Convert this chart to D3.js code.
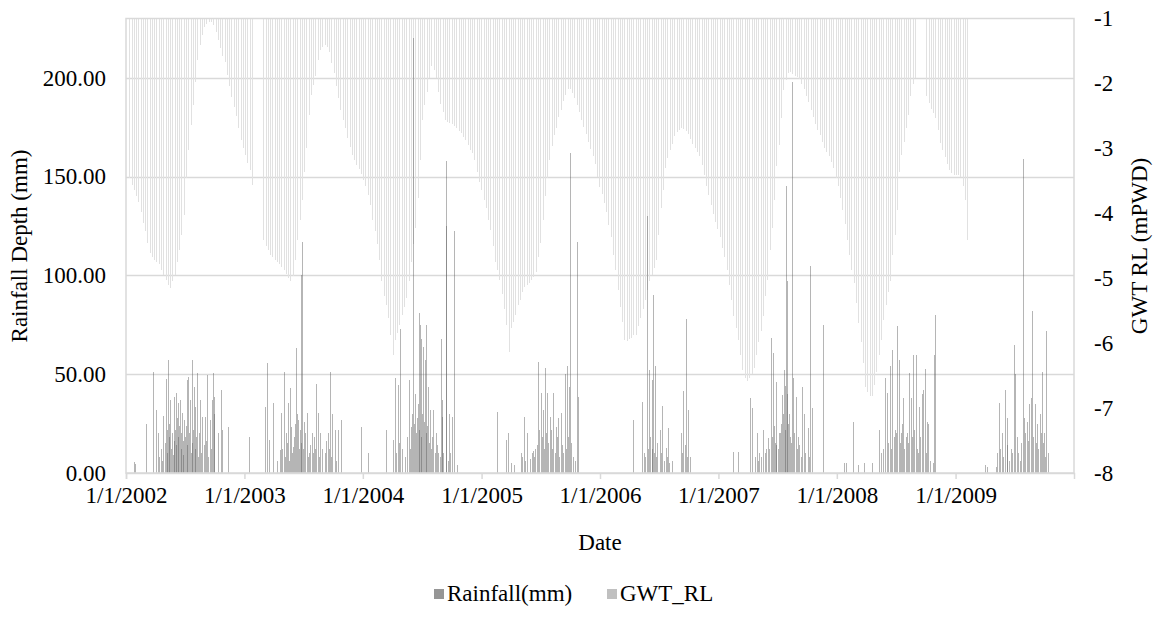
<!DOCTYPE html>
<html>
<head>
<meta charset="utf-8">
<script src="https://cdn.jsdelivr.net/npm/d3@7"></script>
<style>
  html, body { margin: 0; padding: 0; background: #fff; }
  svg { display: block; }
</style>
</head>
<body>
<svg id="chart" width="1154" height="630"></svg>
<script>
// ---------------- DATA ----------------
const yearTicks = ["2002-01-01","2003-01-01","2004-01-01","2005-01-01","2006-01-01","2007-01-01","2008-01-01","2009-01-01"];
const leftTicks = [0, 50, 100, 150, 200];
const rightTicks = [-1, -2, -3, -4, -5, -6, -7, -8];
const seriesNames = ["Rainfall(mm)", "GWT_RL"];

// Weekly groundwater table readings (mPWD), first reading 2002-01-11, one per week; null = missing
const gwtStart = "2002-01-11";
const gwtRL = [
-3.45,-3.56,-3.64,-3.73,-3.82,-3.98,-4.15,-4.28,-4.45,-4.61,
-4.68,-4.72,-4.75,-4.78,-4.87,-4.95,-5.02,-5.10,-5.15,-5.05,
-4.95,-4.75,-4.56,-4.33,-4.02,-3.45,-3.02,-2.64,-2.33,-1.98,
-1.64,-1.41,-1.25,-1.13,-1.08,-1.05,-1.05,-1.10,-1.21,-1.33,
-1.45,-1.58,-1.67,-1.87,-2.04,-2.21,-2.36,-2.50,-2.68,-2.87,
-2.99,-3.10,-3.22,-3.33,-3.56,null,null,null,null,-4.41,
-4.50,-4.56,-4.65,-4.68,-4.72,-4.75,-4.78,-4.82,-4.87,-4.93,
-4.99,-5.05,-4.96,-4.72,-4.41,-4.10,-3.79,-3.36,-2.99,-2.48,
-2.18,-2.02,-1.88,-1.64,-1.48,-1.44,-1.41,-1.44,-1.52,-1.68,
-1.84,-2.04,-2.22,-2.41,-2.56,-2.68,-2.84,-2.98,-3.10,-3.18,
-3.25,-3.32,-3.39,-3.48,-3.58,-3.72,-3.87,-4.10,-4.28,-4.48,
-4.72,-5.05,-5.28,-5.41,-5.61,-5.87,-6.18,-5.95,-5.84,-5.72,
-5.56,-5.45,-5.30,-5.05,-4.75,-4.48,-4.22,-3.76,-3.18,-2.56,
-2.33,-2.13,-1.92,-1.73,-1.79,-1.92,-2.13,-2.32,-2.44,-2.56,
-2.59,-2.61,-2.62,-2.65,-2.68,-2.73,-2.76,-2.82,-2.87,-2.95,
-3.02,-3.07,-3.18,-3.36,-3.52,-3.64,-3.79,-3.92,-4.10,-4.25,
-4.50,-4.75,-4.87,-5.02,-5.25,-5.48,-5.72,-6.13,-5.76,-5.67,
-5.56,-5.42,-5.33,-5.21,-5.13,-5.10,-5.07,-5.02,-4.98,-4.90,
-4.68,-4.45,-4.10,-3.73,-3.45,-3.18,-2.96,-2.79,-2.68,-2.52,
-2.41,-2.27,-2.18,-2.08,-2.08,-2.15,-2.22,-2.33,-2.44,-2.56,
-2.67,-2.78,-2.90,-3.01,-3.12,-3.24,-3.44,-3.59,-3.70,-3.84,
-3.98,-4.18,-4.36,-4.64,-4.87,-5.18,-5.44,-5.67,-5.95,-5.96,
-5.93,-5.92,-5.88,-5.87,-5.73,-5.61,-5.48,-5.33,-5.18,-5.05,
-4.95,-4.84,-4.72,-4.33,-3.92,-3.64,-3.30,-3.15,-3.02,-2.93,
-2.81,-2.75,-2.72,-2.68,-2.70,-2.73,-2.78,-2.85,-2.93,-2.99,
-3.05,-3.12,-3.25,-3.41,-3.58,-3.72,-3.87,-4.01,-4.13,-4.24,
-4.36,-4.53,-4.68,-4.87,-5.10,-5.33,-5.58,-5.76,-5.95,-6.18,
-6.41,-6.53,-6.59,-6.54,-6.48,-6.38,-6.19,-5.98,-5.82,-5.58,
-5.28,-5.02,-4.56,-4.22,-3.79,-3.27,-2.95,-2.53,-2.10,-1.95,
-1.84,-1.82,-1.85,-1.88,-1.90,-1.93,-2.01,-2.08,-2.19,-2.28,
-2.41,-2.52,-2.62,-2.72,-2.79,-2.90,-2.99,-3.05,-3.12,-3.21,
-3.30,-3.45,-3.58,-3.76,-3.95,-4.16,-4.41,-4.64,-4.87,-5.07,
-5.38,-5.69,-5.98,-6.30,-6.68,-6.76,-6.81,-6.82,-6.64,-6.44,
-6.19,-5.95,-5.64,-5.41,-5.22,-5.04,-4.65,-4.33,-3.95,-3.36,
-3.10,-2.90,-2.68,-2.48,-2.19,-2.01,-1.92,null,null,null,
null,-2.19,-2.30,-2.40,-2.45,-2.53,-2.72,-2.92,-3.02,-3.13,
-3.24,-3.33,-3.38,-3.41,-3.41,-3.41,-3.44,-3.58,-3.79,-4.41
];

// Daily rainfall (mm) on rainy days
const rainfall2002 = [
["2002-01-25",5.7],["2002-01-30",4.5],["2002-03-03",24.8],["2002-03-26",51],["2002-04-03",32],["2002-04-10",20],
["2002-04-14",8],["2002-04-18",12],["2002-04-22",6],["2002-04-26",29],["2002-05-01",15],["2002-05-04",47.6],
["2002-05-06",10],["2002-05-08",22],["2002-05-11",57],["2002-05-14",18],["2002-05-15",25],["2002-05-18",37],
["2002-05-21",12],["2002-05-23",20],["2002-05-25",9],["2002-05-28",38.6],["2002-05-30",16],["2002-06-01",22],
["2002-06-03",40.7],["2002-06-05",14],["2002-06-07",28],["2002-06-09",35.4],["2002-06-11",18],["2002-06-13",24],
["2002-06-16",37],["2002-06-19",12],["2002-06-21",20],["2002-06-23",30.4],["2002-06-25",16],["2002-06-27",9],
["2002-06-29",26.8],["2002-07-02",18],["2002-07-04",24],["2002-07-07",47],["2002-07-09",14],["2002-07-12",48.8],
["2002-07-14",20],["2002-07-17",37],["2002-07-19",10],["2002-07-22",57],["2002-07-24",15],["2002-07-26",22],
["2002-07-29",43.7],["2002-08-01",12],["2002-08-03",33.6],["2002-08-05",18],["2002-08-08",50.5],["2002-08-12",8],
["2002-08-14",20],["2002-08-17",37],["2002-08-20",10],["2002-08-24",28.5],["2002-08-28",14],["2002-09-01",28.5],
["2002-09-04",16],["2002-09-08",49.6],["2002-09-12",8],["2002-09-17",26.8],["2002-09-20",12],["2002-09-24",37],
["2002-09-27",50.5],["2002-09-28",30],["2002-09-30",38.6],["2002-10-12",20],["2002-10-20",42],["2002-10-24",21.8],
["2002-11-12",23.5]
];
const rainfall2003 = [
["2003-01-15",18],["2003-03-05",33.6],["2003-03-12",55.6],["2003-03-19",16.7],["2003-03-31",35.3],["2003-04-10",6],
["2003-04-20",11.6],["2003-04-25",30.2],["2003-04-28",12],["2003-05-02",51],["2003-05-06",8],["2003-05-09",20.3],
["2003-05-12",15],["2003-05-16",35.4],["2003-05-19",6],["2003-05-22",42.9],["2003-05-26",23.5],["2003-05-28",10],
["2003-05-31",13.3],["2003-06-02",18],["2003-06-05",25],["2003-06-08",63.2],["2003-06-11",30],["2003-06-14",26.8],
["2003-06-17",12],["2003-06-20",22],["2003-06-23",100],["2003-06-25",15],["2003-06-28",116.7],["2003-07-02",12],
["2003-07-04",26],["2003-07-07",20],["2003-07-12",30.2],["2003-07-15",8],["2003-07-19",10],["2003-07-22",14],
["2003-07-27",20],["2003-07-30",10],["2003-08-05",18],["2003-08-08",12],["2003-08-11",45],["2003-08-16",30.4],
["2003-08-20",8],["2003-08-23",20],["2003-08-27",12],["2003-09-05",10],["2003-09-10",16],["2003-09-16",20],
["2003-09-19",12],["2003-09-22",51],["2003-09-25",8],["2003-09-27",30],["2003-10-07",21.8],["2003-10-11",6],
["2003-10-17",21.8],["2003-10-27",26.8],["2003-12-27",23.3]
];
const rainfall2004 = [
["2004-01-18",10],["2004-03-11",21.8],["2004-04-02",16.7],["2004-04-09",48],["2004-04-12",10],["2004-04-19",44.6],
["2004-04-22",15],["2004-04-26",73],["2004-05-02",12],["2004-05-10",8],["2004-05-16",18],["2004-05-22",47],
["2004-05-25",12],["2004-05-27",23.5],["2004-06-01",30],["2004-06-04",220],["2004-06-07",25],["2004-06-10",40],
["2004-06-13",20],["2004-06-16",28],["2004-06-19",35],["2004-06-21",81],["2004-06-23",22],["2004-06-26",75],
["2004-06-28",18],["2004-06-29",67.6],["2004-07-02",30],["2004-07-05",63.6],["2004-07-07",26],["2004-07-10",57],
["2004-07-13",20],["2004-07-15",75],["2004-07-17",24],["2004-07-20",43.7],["2004-07-23",15],["2004-07-26",32],
["2004-07-29",12],["2004-08-02",18],["2004-08-05",32],["2004-08-09",10],["2004-08-13",20],["2004-08-17",14],
["2004-08-20",10],["2004-08-25",8],["2004-08-29",67.6],["2004-08-31",37],["2004-09-01",28.5],["2004-09-05",10],
["2004-09-13",158],["2004-09-14",125],["2004-09-18",6],["2004-09-23",30],["2004-09-26",10],["2004-10-01",28.5],
["2004-10-09",122.7],["2004-10-16",4]
];
const rainfall2005 = [
["2005-02-19",31],["2005-03-16",16.7],["2005-03-24",20],["2005-04-01",5],["2005-04-11",4],["2005-05-02",10],
["2005-05-06",8],["2005-05-12",28.5],["2005-05-16",6],["2005-05-21",20],["2005-05-29",7],["2005-06-04",10],
["2005-06-09",11],["2005-06-12",8],["2005-06-16",12],["2005-06-21",14],["2005-06-25",56.4],["2005-06-28",22],
["2005-07-02",40.5],["2005-07-05",18],["2005-07-10",32],["2005-07-13",12],["2005-07-16",53],["2005-07-19",20],
["2005-07-22",40.5],["2005-07-26",15],["2005-07-30",28.5],["2005-08-03",22],["2005-08-06",12],["2005-08-10",40.7],
["2005-08-14",10],["2005-08-18",23.5],["2005-08-22",18],["2005-08-25",27.7],["2005-08-29",8],["2005-09-02",30.2],
["2005-09-06",14],["2005-09-10",10],["2005-09-14",50],["2005-09-17",12],["2005-09-21",54],["2005-09-24",18],
["2005-09-27",43.7],["2005-10-01",162],["2005-10-03",15],["2005-10-09",8],["2005-10-15",6],["2005-10-22",117],
["2005-10-25",38.6]
];
const rainfall2006 = [
["2006-04-12",26.8],["2006-05-11",36],["2006-05-16",10],["2006-05-20",8],["2006-05-27",130],["2006-05-30",12],
["2006-06-02",52],["2006-06-05",18],["2006-06-09",47],["2006-06-10",12],["2006-06-13",90],["2006-06-16",10],
["2006-06-19",54],["2006-06-22",8],["2006-06-25",15],["2006-07-05",21.8],["2006-07-08",10],["2006-07-12",34],
["2006-07-16",6],["2006-07-23",12.7],["2006-07-26",8],["2006-07-30",23],["2006-08-03",5],["2006-08-11",6],
["2006-09-07",20],["2006-09-11",10],["2006-09-15",41.4],["2006-09-19",14],["2006-09-23",78],["2006-09-26",8],
["2006-09-30",32],["2006-10-05",8]
];
const rainfall2007 = [
["2007-02-15",10.8],["2007-03-01",10.8],["2007-04-08",37.8],["2007-04-14",33],["2007-04-24",8],["2007-04-29",20],
["2007-05-02",6],["2007-05-06",10],["2007-05-13",8],["2007-05-19",21.8],["2007-05-24",10],["2007-05-28",12],
["2007-06-04",17.7],["2007-06-07",12],["2007-06-11",68.2],["2007-06-14",18],["2007-06-19",60.6],["2007-06-21",24],
["2007-06-24",15],["2007-06-26",14],["2007-06-29",46.3],["2007-07-03",12],["2007-07-06",20],["2007-07-10",20],
["2007-07-13",25],["2007-07-17",39.5],["2007-07-20",30],["2007-07-23",52.2],["2007-07-24",22],["2007-07-26",44],
["2007-07-29",145],["2007-07-31",40],["2007-08-01",97],["2007-08-04",25],["2007-08-06",30],["2007-08-09",18],
["2007-08-12",15],["2007-08-16",198],["2007-08-19",48],["2007-08-22",20],["2007-08-27",38.6],["2007-08-31",12],
["2007-09-03",18],["2007-09-07",14],["2007-09-11",8],["2007-09-16",43.7],["2007-09-22",30],["2007-09-26",10],
["2007-10-03",22.6],["2007-10-07",8],["2007-10-11",105],["2007-10-17",32.8],["2007-11-18",74.8]
];
const rainfall2008 = [
["2008-01-23",5],["2008-01-30",5],["2008-02-21",26],["2008-03-06",4],["2008-03-25",5],["2008-04-18",5],
["2008-05-10",21.8],["2008-05-16",10],["2008-05-22",12],["2008-05-29",48],["2008-06-04",40.4],["2008-06-08",15],
["2008-06-13",53.9],["2008-06-16",12],["2008-06-20",62],["2008-06-24",18],["2008-06-27",22],["2008-07-02",20],
["2008-07-05",74.6],["2008-07-10",57.2],["2008-07-13",15],["2008-07-16",20],["2008-07-19",25],["2008-07-23",38],
["2008-07-27",12],["2008-07-31",18],["2008-08-04",20],["2008-08-08",15],["2008-08-11",50.5],["2008-08-16",38],
["2008-08-19",18],["2008-08-22",59.8],["2008-08-26",22],["2008-08-31",59.8],["2008-09-03",12],["2008-09-07",10],
["2008-09-11",33.6],["2008-09-14",18],["2008-09-18",40],["2008-09-23",42],["2008-09-28",52.5],["2008-10-02",10],
["2008-10-05",26],["2008-10-08",25],["2008-10-15",6],["2008-10-22",5],["2008-10-27",59.8],["2008-10-29",80]
];
const rainfall2009 = [
["2009-04-02",4],["2009-04-07",3],["2009-05-05",3],["2009-05-10",10],["2009-05-15",35.3],["2009-05-19",12],
["2009-05-24",20],["2009-05-28",8],["2009-06-02",42],["2009-06-07",28],["2009-06-10",14],["2009-06-14",6],
["2009-06-20",12],["2009-06-25",10],["2009-06-30",64.8],["2009-07-03",50],["2009-07-08",18],["2009-07-12",10],
["2009-07-18",6],["2009-07-23",15],["2009-07-28",159],["2009-07-31",28],["2009-08-03",20],["2009-08-08",26],
["2009-08-12",16],["2009-08-15",35],["2009-08-20",38],["2009-08-25",82],["2009-08-28",18],["2009-09-02",35],
["2009-09-06",15],["2009-09-10",25],["2009-09-13",12],["2009-09-17",30],["2009-09-21",20],["2009-09-24",51],
["2009-09-27",15],["2009-09-30",20],["2009-10-04",8],["2009-10-08",72],["2009-10-13",10]
];

// ---------------- CHART ----------------
const FONT = "'Liberation Serif', Tinos, 'Times New Roman', Times, 'DejaVu Serif', 'Noto Serif', serif";
const FS = 23;
const parse = d3.utcParse("%Y-%m-%d");
const fmt = d3.utcFormat("%-m/%-d/%Y");
const rain = [].concat(rainfall2002, rainfall2003, rainfall2004, rainfall2005,
                       rainfall2006, rainfall2007, rainfall2008, rainfall2009)
               .map(([d, v]) => ({date: parse(d), value: v}));
const gwt0 = parse(gwtStart);
const gwt = gwtRL.map((v, i) => ({date: d3.utcDay.offset(gwt0, 7 * i), value: v}))
                 .filter(d => d.value !== null);

const svg = d3.select("#chart");
const L = 126, R = 1074, T = 18.5, B = 473;

const x = d3.scaleUtc().domain([parse("2002-01-01"), parse("2010-01-01")]).range([L, R]);
const yL = d3.scaleLinear().domain([0, 230]).range([B, T]);
const yR = d3.scaleLinear().domain([-8, -1]).range([B, T]);

const gridColor = "#d9d9d9";

function styleText(sel) {
  sel.style("font-family", FONT).style("font-size", FS + "px").style("fill", "#000");
}

// gridlines (primary axis)
svg.append("g").selectAll("line").data(leftTicks.slice(1)).join("line")
  .attr("x1", L).attr("x2", R)
  .attr("y1", d => Math.round(yL(d)) + 0.5).attr("y2", d => Math.round(yL(d)) + 0.5)
  .attr("stroke", gridColor).attr("stroke-width", 1.3);

// GWT bars (hang from the top of the secondary axis)
svg.append("g").selectAll("rect").data(gwt).join("rect")
  .attr("x", d => Math.round(x(d.date)))
  .attr("width", 1)
  .attr("y", yR(-1))
  .attr("height", d => yR(d.value) - yR(-1))
  .attr("fill", "#e1e1e1")
  .attr("shape-rendering", "crispEdges");

// Rainfall bars
svg.append("g").selectAll("rect").data(rain).join("rect")
  .attr("x", d => Math.round(x(d.date)))
  .attr("width", 1)
  .attr("y", d => yL(d.value))
  .attr("height", d => B - yL(d.value))
  .attr("fill", "#5a5a5a")
  .attr("fill-opacity", 0.45)
  .attr("shape-rendering", "crispEdges");

// plot border
svg.append("rect").attr("x", L).attr("y", T).attr("width", R - L).attr("height", B - T)
  .attr("fill", "none").attr("stroke", gridColor).attr("stroke-width", 1.5);

// x axis
const xAxis = d3.axisBottom(x).tickValues(yearTicks.map(parse)).tickFormat(fmt).tickSize(6).tickPadding(8);
const gx = svg.append("g").attr("transform", `translate(0,${B})`).call(xAxis);
gx.select(".domain").attr("stroke", gridColor).attr("stroke-width", 1.5);
gx.selectAll(".tick line").attr("stroke", gridColor).attr("stroke-width", 1.5);
gx.selectAll(".tick text").call(styleText);

// left axis
const yAxisL = d3.axisLeft(yL).tickValues(leftTicks).tickFormat(d3.format(".2f")).tickSize(0).tickPadding(20);
const gl = svg.append("g").attr("transform", `translate(${L},0)`).call(yAxisL);
gl.select(".domain").remove();
gl.selectAll(".tick text").call(styleText);

// right axis
const yAxisR = d3.axisRight(yR).tickValues(rightTicks).tickFormat(d => d3.format("d")(d).replace("\u2212", "-")).tickSize(0).tickPadding(20);
const gr = svg.append("g").attr("transform", `translate(${R},0)`).call(yAxisR);
gr.select(".domain").remove();
gr.selectAll(".tick text").call(styleText);

// axis titles
svg.append("text").attr("transform", "translate(27,246) rotate(-90)")
  .attr("text-anchor", "middle").text("Rainfall Depth (mm)").call(styleText);
svg.append("text").attr("transform", "translate(1147,246) rotate(-90)")
  .attr("text-anchor", "middle").text("GWT RL (mPWD)").call(styleText);
svg.append("text").attr("x", 600).attr("y", 550)
  .attr("text-anchor", "middle").text("Date").call(styleText);

// legend
const legendColors = ["#969696", "#c0c0c0"];
const legendX = [434, 607];
const lg = svg.append("g");
seriesNames.forEach((name, i) => {
  lg.append("rect").attr("x", legendX[i]).attr("y", 589).attr("width", 10).attr("height", 10).attr("fill", legendColors[i]);
  lg.append("text").attr("x", legendX[i] + 13).attr("y", 601).text(name).call(styleText);
});
</script>
</body>
</html>
